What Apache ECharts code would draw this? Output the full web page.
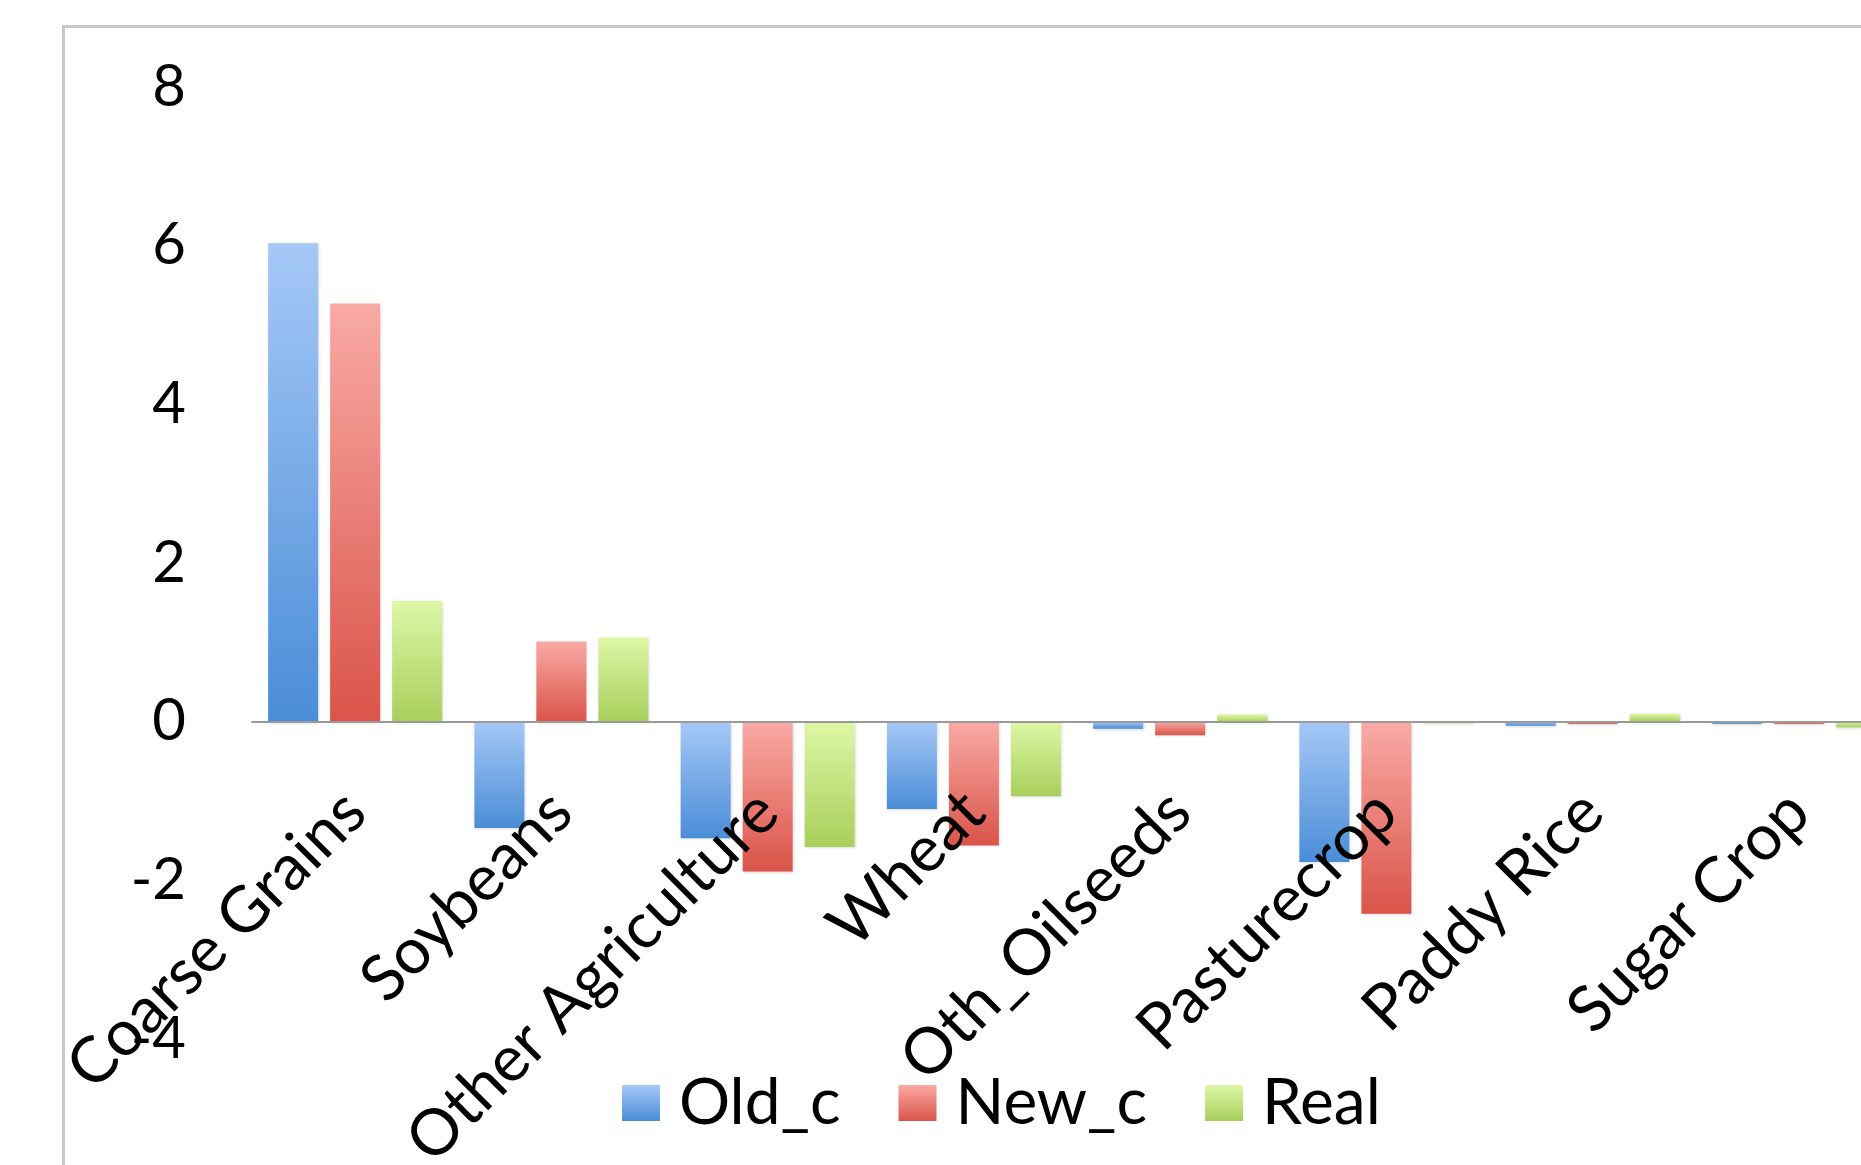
<!DOCTYPE html>
<html>
<head>
<meta charset="utf-8">
<script src="https://cdn.jsdelivr.net/npm/echarts@6/dist/echarts.min.js"></script>
<style>
  html, body { margin: 0; padding: 0; background: #fff; overflow: hidden; }
  #chart { width: 1861px; height: 1165px; }
</style>
</head>
<body>
<div id="chart"></div>
<script>
// Crop categories along the x axis
const categories = ['Coarse Grains', 'Soybeans', 'Other Agriculture', 'Wheat', 'Oth_Oilseeds', 'Pasturecrop', 'Paddy Rice', 'Sugar Crop'];

// Series values
const oldC  = [6.03, -1.34, -1.47, -1.10, -0.09, -1.77, -0.05, -0.03];
const newC  = [5.27,  1.01, -1.89, -1.56, -0.17, -2.42, -0.03, -0.03];
const real  = [1.52,  1.06, -1.58, -0.94,  0.09, -0.02,  0.10, -0.07];

// Value axis range
const yMin = -4, yMax = 8, yStep = 2;

const FONT = 'Lato, "Open Sans", sans-serif';
const FS_Y = 58;
const FS_X = 64;

// Plot area
const GRID_TOP = 87, GRID_H = 952;
// The category axis sits on the zero line, so lift it by the height below zero
const zeroLift = GRID_H * (0 - yMin) / (yMax - yMin);

function grad(top, bottom) {
  return new echarts.graphic.LinearGradient(0, 0, 0, 1, [
    { offset: 0, color: top },
    { offset: 1, color: bottom }
  ]);
}

function barSeries(name, data, top, bottom) {
  return {
    name: name,
    type: 'bar',
    data: data,
    barWidth: 50,
    barGap: '24%',
    itemStyle: {
      color: grad(top, bottom),
      shadowColor: 'rgba(0,0,0,0.18)',
      shadowBlur: 3,
      shadowOffsetX: 1,
      shadowOffsetY: 1
    }
  };
}

const chart = echarts.init(document.getElementById('chart'), null, { renderer: 'canvas' });

chart.setOption({
  animation: false,
  backgroundColor: '#ffffff',
  textStyle: { fontFamily: FONT },
  graphic: [{
    type: 'rect',
    left: 62, top: 25,
    shape: { width: 2000, height: 1300 },
    style: { fill: 'transparent', stroke: '#c8c8c8', lineWidth: 3 },
    z: -1
  }],
  grid: {
    left: 252, top: GRID_TOP, width: 1650, height: GRID_H,
    containLabel: false,
    outerBoundsMode: 'none'
  },
  legend: {
    left: 617,
    top: 1066,
    itemWidth: 38,
    itemHeight: 36,
    itemGap: 58,
    icon: 'rect',
    textStyle: { fontFamily: FONT, fontSize: FS_X, color: '#000', padding: [0, 0, 0, 14] },
    data: ['Old_c', 'New_c', 'Real']
  },
  xAxis: {
    type: 'category',
    data: categories,
    position: 'bottom',
    offset: -zeroLift,
    axisLine: { onZero: false, lineStyle: { color: '#9a9a9a', width: 2 } },
    axisTick: { show: false },
    axisLabel: {
      rotate: 45,
      margin: 80,
      interval: 0,
      color: '#000',
      fontFamily: FONT,
      fontSize: FS_X
    },
    z: 5
  },
  yAxis: {
    type: 'value',
    min: yMin,
    max: yMax,
    interval: yStep,
    axisLine: { show: false },
    axisTick: { show: false },
    splitLine: { show: false },
    axisLabel: {
      margin: 66,
      color: '#000',
      fontFamily: FONT,
      fontSize: FS_Y,
      padding: [16, 0, 0, 0]
    }
  },
  series: [
    barSeries('Old_c', oldC, '#a6c8f7', '#4a8dd7'),
    barSeries('New_c', newC, '#f9aaa5', '#da5449'),
    barSeries('Real',  real, '#def7a6', '#a8cf5c')
  ]
});
</script>
</body>
</html>
